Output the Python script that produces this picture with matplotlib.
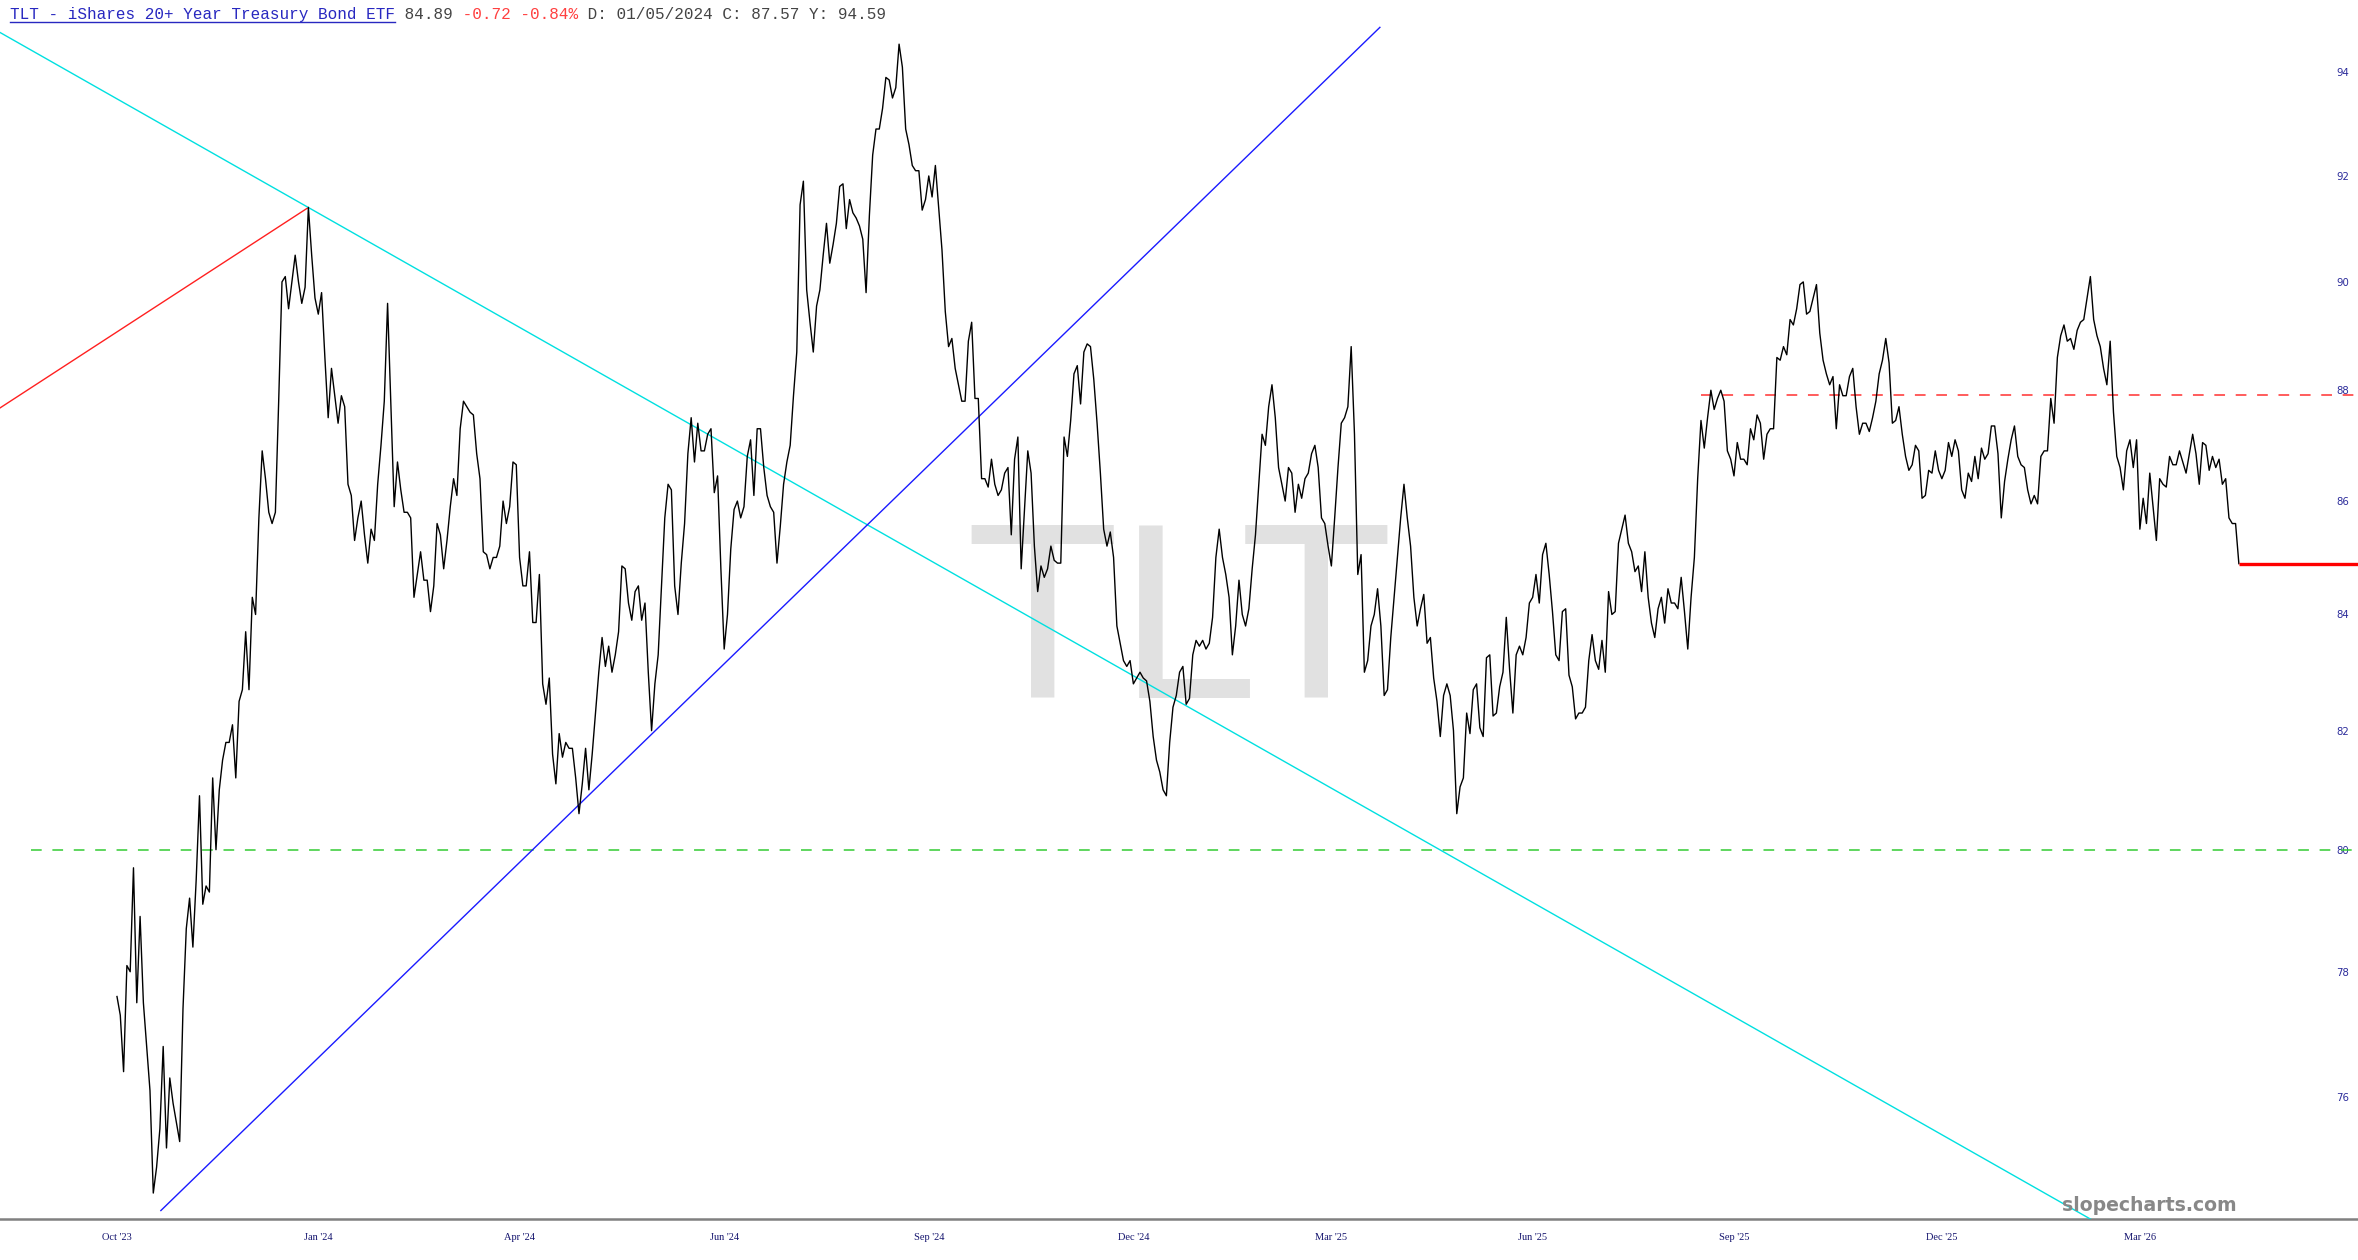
import matplotlib
matplotlib.use("Agg")
import matplotlib.pyplot as plt
from matplotlib.ticker import FixedLocator, NullLocator, FixedFormatter
from matplotlib.lines import Line2D

# daily closes (one value per bar)
close = [
    77.6, 77.3, 76.4, 78.1, 78.0, 79.7, 77.5, 78.9, 77.5, 76.8,
    76.1, 74.5, 74.9, 75.5, 76.8, 75.2, 76.3, 75.9, 75.6, 75.3,
    77.4, 78.7, 79.2, 78.4, 79.5, 80.9, 79.1, 79.4, 79.3, 81.2,
    80.0, 81.0, 81.5, 81.8, 81.8, 82.1, 81.2, 82.5, 82.7, 83.7,
    82.7, 84.3, 84.0, 85.7, 86.9, 86.4, 85.8, 85.6, 85.8, 87.8,
    90.0, 90.1, 89.5, 90.0, 90.5, 90.0, 89.6, 89.9, 91.4, 90.5,
    89.7, 89.4, 89.8, 88.6, 87.5, 88.4, 87.9, 87.4, 87.9, 87.7,
    86.3, 86.1, 85.3, 85.7, 86.0, 85.4, 84.9, 85.5, 85.3, 86.3,
    87.0, 87.8, 89.6, 87.7, 85.9, 86.7, 86.2, 85.8, 85.8, 85.7,
    84.3, 84.7, 85.1, 84.6, 84.6, 84.05, 84.5, 85.6, 85.4, 84.8,
    85.3, 85.9, 86.4, 86.1, 87.3, 87.8, 87.7, 87.6, 87.55, 86.85,
    86.4, 85.1, 85.05, 84.8, 85.0, 85.0, 85.2, 86.0, 85.6, 85.9,
    86.7, 86.65, 85.0, 84.5, 84.5, 85.1, 83.86, 83.86, 84.7, 82.8,
    82.45, 82.9, 81.6, 81.1, 81.95, 81.55, 81.8, 81.7, 81.7, 81.2,
    80.6, 81.1, 81.7, 81.0, 81.6, 82.3, 83.0, 83.6, 83.1, 83.45,
    83.0, 83.3, 83.7, 84.85, 84.8, 84.2, 83.9, 84.4, 84.5, 83.9,
    84.2, 83.0, 82.0, 82.8, 83.3, 84.5, 85.7, 86.3, 86.2, 84.5,
    84.0, 84.9, 85.6, 86.85, 87.5, 86.7, 87.4, 86.9, 86.9, 87.2,
    87.3, 86.15, 86.45, 84.8, 83.4, 84.0, 85.15, 85.85, 86.0, 85.7,
    85.9, 86.8, 87.1, 86.1, 87.3, 87.3, 86.6, 86.1, 85.9, 85.8,
    84.9, 85.55, 86.3, 86.7, 87.0, 87.9, 88.7, 91.45, 91.9, 89.85,
    89.25, 88.7, 89.55, 89.85, 90.5, 91.1, 90.35, 90.7, 91.1, 91.8,
    91.85, 91.0, 91.55, 91.3, 91.2, 91.05, 90.8, 89.8, 91.25, 92.4,
    92.9, 92.9, 93.3, 93.9, 93.85, 93.5, 93.7, 94.55, 94.1, 92.9,
    92.6, 92.2, 92.1, 92.1, 91.35, 91.55, 92.0, 91.6, 92.2, 91.4,
    90.6, 89.45, 88.8, 88.95, 88.4, 88.1, 87.8, 87.8, 88.9, 89.25,
    87.85, 87.85, 86.4, 86.4, 86.25, 86.75, 86.3, 86.1, 86.2, 86.5,
    86.6, 85.4, 86.75, 87.15, 84.8, 85.85, 86.9, 86.5, 85.2, 84.4,
    84.85, 84.65, 84.8, 85.2, 84.95, 84.9, 84.9, 87.15, 86.8, 87.45,
    88.3, 88.45, 87.75, 88.7, 88.85, 88.8, 88.2, 87.4, 86.5, 85.5,
    85.2, 85.45, 85.0, 83.8, 83.5, 83.2, 83.1, 83.2, 82.8, 82.9,
    83.0, 82.9, 82.85, 82.5, 81.9, 81.5, 81.3, 81.0, 80.9, 81.8,
    82.4, 82.6, 83.0, 83.1, 82.45, 82.55, 83.3, 83.55, 83.45, 83.55,
    83.4, 83.5, 83.95, 85.0, 85.5, 85.0, 84.7, 84.3, 83.3, 83.8,
    84.6, 84.0, 83.8, 84.1, 84.8, 85.4, 86.3, 87.2, 87.0, 87.7,
    88.1, 87.5, 86.6, 86.3, 86.0, 86.6, 86.5, 85.8, 86.3, 86.05,
    86.4, 86.5, 86.85, 87.0, 86.6, 85.7, 85.6, 85.2, 84.85, 85.7,
    86.6, 87.4, 87.5, 87.7, 88.8, 87.2, 84.7, 85.05, 83.0, 83.2,
    83.8, 84.0, 84.45, 83.8, 82.6, 82.7, 83.6, 84.3, 85.0, 85.7,
    86.3, 85.7, 85.2, 84.3, 83.8, 84.1, 84.35, 83.5, 83.6, 82.9,
    82.5, 81.9, 82.6, 82.8, 82.6, 82.0, 80.6, 81.05, 81.2, 82.3,
    81.95, 82.7, 82.8, 82.05, 81.9, 83.25, 83.3, 82.25, 82.3, 82.75,
    83.0, 83.95, 83.05, 82.3, 83.3, 83.45, 83.3, 83.6, 84.2, 84.3,
    84.7, 84.2, 85.05, 85.25, 84.7, 84.05, 83.3, 83.2, 84.05, 84.1,
    82.95, 82.75, 82.2, 82.3, 82.3, 82.4, 83.2, 83.65, 83.2, 83.05,
    83.55, 83.0, 84.4, 84.0, 84.05, 85.25, 85.5, 85.75, 85.25, 85.1,
    84.75, 84.85, 84.4, 85.1, 84.3, 83.85, 83.6, 84.1, 84.3, 83.85,
    84.45, 84.2, 84.2, 84.1, 84.65, 84.05, 83.4, 84.3, 85.0, 86.4,
    87.45, 86.95, 87.5, 88.0, 87.65, 87.85, 88.0, 87.8, 86.9, 86.75,
    86.45, 87.05, 86.75, 86.75, 86.65, 87.3, 87.1, 87.55, 87.4, 86.75,
    87.2, 87.3, 87.3, 88.6, 88.55, 88.8, 88.65, 89.3, 89.2, 89.5,
    89.95, 90.0, 89.4, 89.45, 89.7, 89.95, 89.05, 88.55, 88.3, 88.1,
    88.25, 87.3, 88.1, 87.9, 87.9, 88.25, 88.4, 87.7, 87.2, 87.4,
    87.4, 87.25, 87.5, 87.8, 88.3, 88.55, 88.95, 88.5, 87.4, 87.45,
    87.7, 87.2, 86.8, 86.55, 86.65, 87.0, 86.9, 86.05, 86.1, 86.55,
    86.5, 86.9, 86.55, 86.4, 86.55, 87.05, 86.8, 87.1, 86.9, 86.2,
    86.05, 86.5, 86.35, 86.8, 86.4, 86.95, 86.75, 86.85, 87.35, 87.35,
    86.85, 85.7, 86.35, 86.75, 87.1, 87.35, 86.8, 86.65, 86.6, 86.2,
    85.95, 86.1, 85.95, 86.8, 86.9, 86.9, 87.85, 87.4, 88.6, 89.0,
    89.2, 88.9, 88.95, 88.75, 89.1, 89.25, 89.3, 89.7, 90.1, 89.3,
    89.0, 88.8, 88.4, 88.1, 88.9, 87.6, 86.8, 86.6, 86.2, 86.9,
    87.1, 86.6, 87.1, 85.5, 86.05, 85.6, 86.5, 85.9, 85.3, 86.4,
    86.3, 86.25, 86.8, 86.65, 86.65, 86.9, 86.7, 86.5, 86.85, 87.2,
    86.85, 86.3, 87.05, 87.0, 86.55, 86.8, 86.6, 86.75, 86.3, 86.4,
    85.7, 85.6, 85.6, 84.89,
]
bars = list(range(len(close)))

xtick_bars = [0, 61, 122, 184, 246, 308, 368, 429, 490, 553, 613]
xtick_labels = ["Oct '23", "Jan '24", "Apr '24", "Jun '24", "Sep '24", "Dec '24",
                "Mar '25", "Jun '25", "Sep '25", "Dec '25", "Mar '26"]
ytick_vals = [76, 78, 80, 82, 84, 86, 88, 90, 92, 94]

# drawn trend lines: (bar, price) end points
red_trend_x, red_trend_y = [-40, 58], [87.5, 91.4]
cyan_trend_x, cyan_trend_y = [-36, 640], [94.8, 72.9]
blue_trend_x, blue_trend_y = [13.3, 382.7], [74.23, 94.88]
support_level = 80.0
resist_level, resist_from = 87.92, 480
last_price = 84.89

header_title = "TLT - iShares 20+ Year Treasury Bond ETF"
header_parts = [(" 84.89", "#444444"), (" -0.72 -0.84%", "#ff4040"),
                (" D: 01/05/2024 C: 87.57 Y: 94.59", "#444444")]

W, H = 2358, 1260
fig = plt.figure(figsize=(W / 100, H / 100), dpi=100)
fig.patch.set_facecolor("white")
ax = fig.add_axes([0, 41 / H, 1, 1 - 41 / H])

x_lo, x_hi = -35.45, 679.1
ax.set_xlim(x_lo, x_hi)
ax.set_yscale("log")
ax.set_ylim(74.10, 95.42)

# watermark
ax.text(0.5, 0.427, "TLT", transform=ax.transAxes, ha="center", va="baseline",
        fontsize=181, family=["Liberation Sans", "DejaVu Sans"], color="#e1e1e1", zorder=0)

ax.plot(bars, close, color="black", lw=1.0, zorder=5)

ax.plot(red_trend_x, red_trend_y, color="#ff2020", lw=1.0, zorder=4)
ax.plot(cyan_trend_x, cyan_trend_y, color="#00e0e0", lw=1.0, zorder=4)
ax.plot(blue_trend_x, blue_trend_y, color="#1a1aff", lw=1.0, zorder=4)

ax.hlines(support_level, -26, x_hi + 5, colors="#33cc33", lw=1.1,
          linestyles=(0, (7, 7)), zorder=3)
ax.hlines(resist_level, resist_from, x_hi + 5, colors="#ff3030", lw=1.1,
          linestyles=(0, (7, 7)), zorder=3)
ax.hlines(last_price, bars[-1], x_hi + 5, colors="#ff0000", lw=2.4, zorder=6)

# axes styling
for side in ["top", "left", "right"]:
    ax.spines[side].set_visible(False)
ax.spines["bottom"].set_color("#808080")
ax.spines["bottom"].set_linewidth(1.8)

ax.xaxis.set_major_locator(FixedLocator(xtick_bars))
ax.xaxis.set_major_formatter(FixedFormatter(xtick_labels))
ax.tick_params(axis="x", length=0, pad=10, labelsize=7.5, labelcolor="#14146e")
for lab in ax.get_xticklabels():
    lab.set_family(["Liberation Serif", "DejaVu Serif"])

ax.yaxis.set_ticks_position("right")
ax.yaxis.set_major_locator(FixedLocator(ytick_vals))
ax.yaxis.set_major_formatter(FixedFormatter([str(v) for v in ytick_vals]))
ax.yaxis.set_minor_locator(NullLocator())
ax.tick_params(axis="y", which="both", length=0, pad=-15.5, labelsize=7.3,
               labelcolor="#2b2b9a")

# header line
mono = ["Liberation Mono", "DejaVu Sans Mono"]
t0 = fig.text(10 / W, 1 - 22 / H, header_title, color="#2828c0", family=mono,
              fontsize=11.5, va="bottom", ha="left")
prev = t0
for txt, col in header_parts:
    prev = ax.annotate(txt, xy=(1, 0), xycoords=prev, va="bottom", ha="left",
                       color=col, family=mono, fontsize=11.5, annotation_clip=False)

fig.canvas.draw()
bb = t0.get_window_extent()
fig.add_artist(Line2D([bb.x0 / W, bb.x1 / W], [1 - 21.5 / H, 1 - 21.5 / H],
                      transform=fig.transFigure, color="#2828c0", lw=1.0))

fig.text(2149 / W, 1 - 1211 / H, "slopecharts.com", ha="center", va="baseline",
         fontsize=13.6, fontweight="bold", color="#888888", family="DejaVu Sans")

fig.savefig("out.png", dpi=100, facecolor="white")
